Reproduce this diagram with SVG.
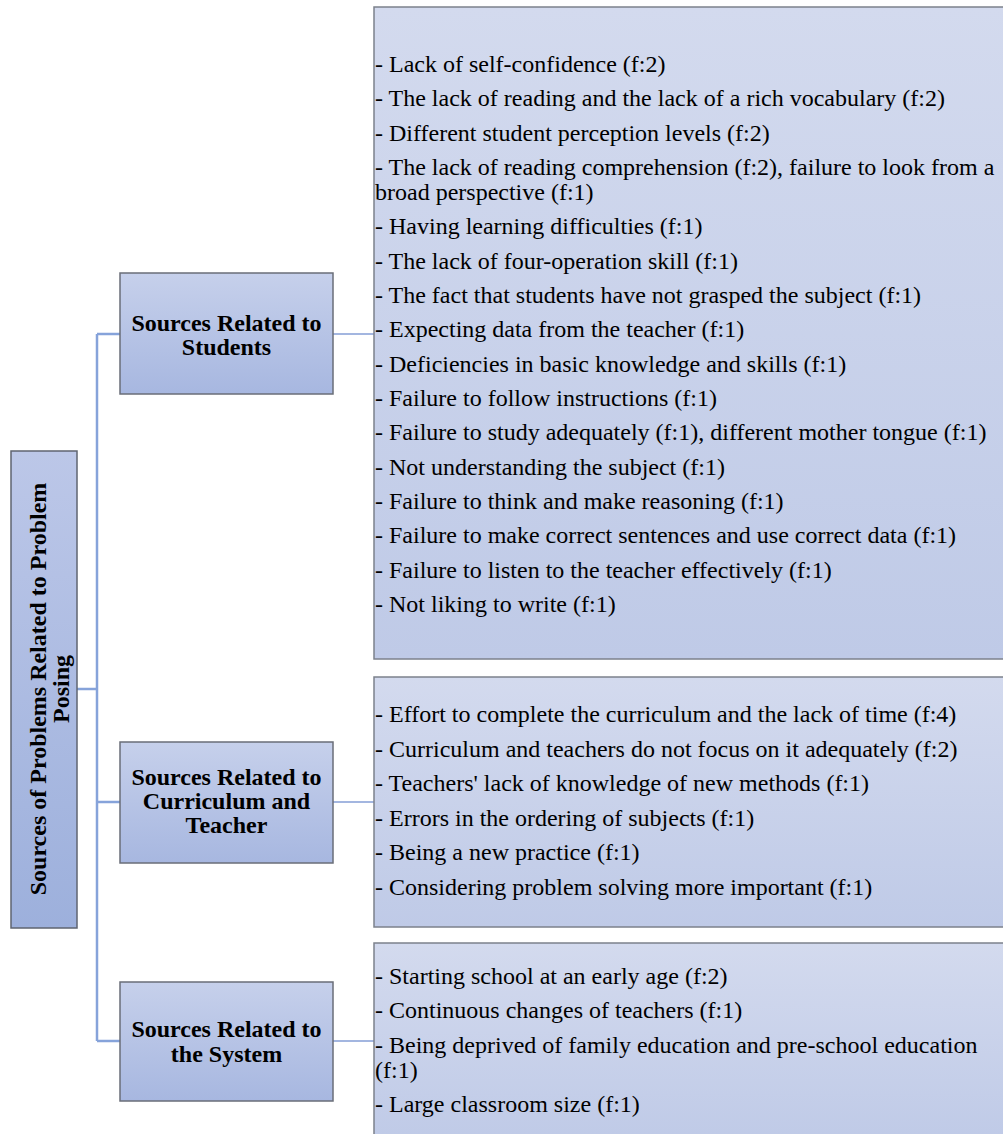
<svg xmlns="http://www.w3.org/2000/svg" width="1003" height="1134" viewBox="0 0 1003 1134">
  <defs>
    <linearGradient id="gList" x1="0" y1="0" x2="0" y2="1">
      <stop offset="0" stop-color="#d3daee"/>
      <stop offset="1" stop-color="#bfcae7"/>
    </linearGradient>
    <linearGradient id="gMid" x1="0" y1="0" x2="0" y2="1">
      <stop offset="0" stop-color="#c6d0eb"/>
      <stop offset="1" stop-color="#a7b7e0"/>
    </linearGradient>
    <linearGradient id="gRoot" x1="0" y1="0" x2="0" y2="1">
      <stop offset="0" stop-color="#bcc7e8"/>
      <stop offset="1" stop-color="#9db0dc"/>
    </linearGradient>
    <style>
      .list { fill: url(#gList); stroke: #7c818c; stroke-width: 1.5; }
      .mid { fill: url(#gMid); stroke: #6a6e78; stroke-width: 1.5; }
      .root { fill: url(#gRoot); stroke: #5f6470; stroke-width: 1.5; }
      .head { font-family: "Liberation Serif", "Times New Roman", serif; font-weight: bold; font-size: 24px; fill: #000; text-anchor: middle; }
      .item { font-family: "Liberation Serif", "Times New Roman", serif; font-size: 24px; fill: #000; }
      .conn { stroke: #86a3da; stroke-width: 2.5; fill: none; }
      .conn2 { stroke: #a3b6e0; stroke-width: 2; fill: none; }
    </style>
  </defs>

  <!-- connectors -->
  <g id="connectors">
    <path class="conn" d="M77 689 H97 M97 334 V1041 M97 334 H120 M97 802 H120 M97 1041 H120"/>
    <path class="conn2" d="M333 334 H374 M333 802 H374 M333 1041 H374"/>
  </g>

  <!-- root -->
  <g id="root">
    <rect class="root" x="11" y="451" width="66" height="477"/>
    <g transform="translate(44,689) rotate(-90)">
      <text class="head" x="0" y="2">Sources of Problems Related to Problem</text>
      <text class="head" x="0" y="25">Posing</text>
    </g>
  </g>

  <!-- category: students -->
  <g id="cat-students">
    <rect class="mid" x="120" y="273" width="213" height="121"/>
    <text class="head" x="226.5" y="331">Sources Related to</text>
    <text class="head" x="226.5" y="355">Students</text>
  </g>

  <!-- category: curriculum and teacher -->
  <g id="cat-curriculum">
    <rect class="mid" x="120" y="742" width="213" height="121"/>
    <text class="head" x="226.5" y="785">Sources Related to</text>
    <text class="head" x="226.5" y="809">Curriculum and</text>
    <text class="head" x="226.5" y="833">Teacher</text>
  </g>

  <!-- category: system -->
  <g id="cat-system">
    <rect class="mid" x="120" y="982" width="213" height="119"/>
    <text class="head" x="226.5" y="1037">Sources Related to</text>
    <text class="head" x="226.5" y="1062">the System</text>
  </g>

  <!-- list: students -->
  <g id="list-students">
    <rect class="list" x="374" y="7" width="640" height="652"/>
    <text class="item" x="375" y="72">- Lack of self-confidence (f:2)</text>
    <text class="item" x="375" y="106">- The lack of reading and the lack of a rich vocabulary (f:2)</text>
    <text class="item" x="375" y="141">- Different student perception levels (f:2)</text>
    <text class="item" x="375" y="175">- The lack of reading comprehension (f:2), failure to look from a</text>
    <text class="item" x="375" y="200">broad perspective (f:1)</text>
    <text class="item" x="375" y="234">- Having learning difficulties (f:1)</text>
    <text class="item" x="375" y="269">- The lack of four-operation skill (f:1)</text>
    <text class="item" x="375" y="303">- The fact that students have not grasped the subject  (f:1)</text>
    <text class="item" x="375" y="337">- Expecting data from the teacher  (f:1)</text>
    <text class="item" x="375" y="372">- Deficiencies in basic knowledge and skills  (f:1)</text>
    <text class="item" x="375" y="406">- Failure to follow instructions (f:1)</text>
    <text class="item" x="375" y="440">- Failure to study adequately (f:1), different mother tongue (f:1)</text>
    <text class="item" x="375" y="475">- Not understanding the subject (f:1)</text>
    <text class="item" x="375" y="509">- Failure to think and make reasoning (f:1)</text>
    <text class="item" x="375" y="543">- Failure to make correct sentences and use correct data (f:1)</text>
    <text class="item" x="375" y="578">- Failure to listen to the teacher effectively (f:1)</text>
    <text class="item" x="375" y="612">- Not liking to write (f:1)</text>
  </g>

  <!-- list: curriculum and teacher -->
  <g id="list-curriculum">
    <rect class="list" x="374" y="677" width="640" height="250"/>
    <text class="item" x="375" y="722">- Effort to complete the curriculum and the lack of time (f:4)</text>
    <text class="item" x="375" y="757">- Curriculum and teachers do not focus on it adequately (f:2)</text>
    <text class="item" x="375" y="791">- Teachers' lack of knowledge of new methods (f:1)</text>
    <text class="item" x="375" y="826">- Errors in the ordering of subjects (f:1)</text>
    <text class="item" x="375" y="860">- Being a new practice (f:1)</text>
    <text class="item" x="375" y="895">- Considering problem solving more important (f:1)</text>
  </g>

  <!-- list: system -->
  <g id="list-system">
    <rect class="list" x="374" y="943" width="640" height="200"/>
    <text class="item" x="375" y="984">- Starting school at an early age (f:2)</text>
    <text class="item" x="375" y="1018">- Continuous changes of teachers (f:1)</text>
    <text class="item" x="375" y="1053">- Being deprived of family education and pre-school education</text>
    <text class="item" x="375" y="1078">(f:1)</text>
    <text class="item" x="375" y="1112">- Large classroom size (f:1)</text>
  </g>
</svg>
